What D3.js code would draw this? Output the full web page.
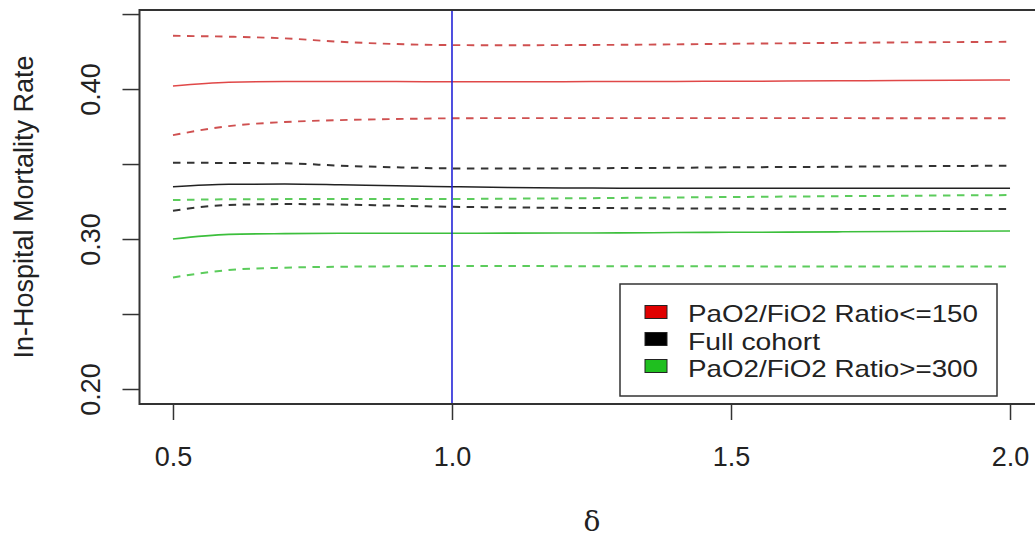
<!DOCTYPE html>
<html><head><meta charset="utf-8">
<script src="https://cdn.jsdelivr.net/npm/d3@7"></script>
<style>
html,body{margin:0;padding:0;background:#fff;}
text{font-family:"Liberation Sans",Arial,sans-serif;fill:#222;}
</style></head>
<body><svg id="c" width="1035" height="538"></svg>
<script>
const delta = [0.5,0.6,0.7,0.8,0.9,1.0,1.1,1.2,1.3,1.4,1.5,1.6,1.7,1.8,1.9,2.0];
const redEst   = [0.4020,0.4045,0.4050,0.4050,0.4050,0.4048,0.4048,0.4049,0.4050,0.4051,0.4052,0.4053,0.4055,0.4057,0.4058,0.4060];
const redUp    = [0.4355,0.4349,0.4338,0.4315,0.4300,0.4293,0.4292,0.4293,0.4295,0.4298,0.4302,0.4305,0.4308,0.4311,0.4313,0.4315];
const redLo    = [0.3693,0.3753,0.3780,0.3793,0.3800,0.3805,0.3806,0.3806,0.3806,0.3806,0.3806,0.3806,0.3806,0.3805,0.3805,0.3805];
const fullEst  = [0.3349,0.3365,0.3367,0.3362,0.3355,0.3349,0.3343,0.3340,0.3339,0.3338,0.3338,0.3338,0.3338,0.3338,0.3338,0.3338];
const fullUp   = [0.3509,0.3507,0.3505,0.3489,0.3478,0.3471,0.3470,0.3471,0.3473,0.3475,0.3478,0.3480,0.3482,0.3485,0.3487,0.3489];
const fullLo   = [0.3189,0.3227,0.3233,0.3230,0.3222,0.3215,0.3211,0.3208,0.3206,0.3204,0.3203,0.3202,0.3201,0.3200,0.3200,0.3200];
const grnEst   = [0.3000,0.3031,0.3036,0.3038,0.3038,0.3038,0.3039,0.3040,0.3041,0.3043,0.3045,0.3046,0.3048,0.3050,0.3052,0.3053];
const grnUp    = [0.3260,0.3265,0.3266,0.3267,0.3267,0.3267,0.3269,0.3271,0.3274,0.3277,0.3280,0.3283,0.3286,0.3288,0.3291,0.3293];
const grnLo    = [0.2744,0.2793,0.2809,0.2815,0.2818,0.2820,0.2820,0.2819,0.2819,0.2818,0.2818,0.2817,0.2817,0.2816,0.2816,0.2816];
const yTicks = [0.20,0.25,0.30,0.35,0.40,0.45];
const yTickLabels = ["0.20","","0.30","","0.40",""];
const xTicks = [0.5,1.0,1.5,2.0];
const xTickLabels = ["0.5","1.0","1.5","2.0"];
const legendLabels = ["PaO2/FiO2 Ratio<=150","Full cohort","PaO2/FiO2 Ratio>=300"];
const legendWidths = [290,132,290];
const legendColors = ["#e00000","#000000","#1fbf1f"];
const refDelta = 1.0;

const svg = d3.select("#c");
const x = d3.scaleLinear().domain([0.44,2.06]).range([139.5,1043.5]);
const y = d3.scaleLinear().domain([0.19,0.4527]).range([404,10]);

const series = [
  {v:redUp, c:"#cf5050", dash:true, w:1.9},
  {v:redEst, c:"#e04848", dash:false, w:1.5},
  {v:redLo, c:"#cf5050", dash:true, w:1.9},
  {v:fullUp, c:"#333", dash:true, w:2},
  {v:fullEst, c:"#222", dash:false, w:1.5},
  {v:fullLo, c:"#333", dash:true, w:2},
  {v:grnUp, c:"#5ccc5c", dash:true, w:2},
  {v:grnEst, c:"#3cbf3c", dash:false, w:1.6},
  {v:grnLo, c:"#5ccc5c", dash:true, w:2}
];
const line = d3.line().x((d,i)=>x(delta[i])).y(d=>y(d)).curve(d3.curveMonotoneX);
series.forEach(s=>{
  svg.append("path").attr("d",line(s.v)).attr("fill","none")
    .attr("stroke",s.c).attr("stroke-width",s.w)
    .attr("stroke-dasharray",s.dash?"7.5,6.5":null);
});

// reference line
svg.append("line").attr("x1",x(refDelta)).attr("x2",x(refDelta))
  .attr("y1",y.range()[1]).attr("y2",y.range()[0])
  .attr("stroke","#2424d8").attr("stroke-width",1.6);

// box
svg.append("path").attr("d",`M1040,${y.range()[1]}H${x.range()[0]}V${y.range()[0]}H1040`)
  .attr("fill","none").attr("stroke","#333").attr("stroke-width",2);

// y axis
const ya = svg.append("g").attr("transform",`translate(${x.range()[0]},0)`)
  .call(d3.axisLeft(y).tickValues(yTicks).tickSize(17).tickFormat((d,i)=>yTickLabels[i]));
ya.select(".domain").remove();
ya.selectAll(".tick line").attr("stroke","#333").attr("stroke-width",1.5);
ya.selectAll(".tick text").attr("font-size",27).attr("fill","#222")
  .attr("font-family","Liberation Sans, Arial, sans-serif")
  .attr("text-anchor","middle").attr("dy",0).attr("x",0)
  .attr("transform","translate(-39.5,0) rotate(-90)");

// x axis
const xa = svg.append("g").attr("transform",`translate(0,${y.range()[0]})`)
  .call(d3.axisBottom(x).tickValues(xTicks).tickSize(16).tickFormat((d,i)=>xTickLabels[i]));
xa.select(".domain").remove();
xa.selectAll(".tick line").attr("stroke","#333").attr("stroke-width",1.5);
xa.selectAll(".tick text").attr("font-size",27).attr("fill","#222")
  .attr("font-family","Liberation Sans, Arial, sans-serif")
  .attr("y",62).attr("dy",0);

// axis titles
svg.append("text").attr("transform","translate(33,207) rotate(-90)")
  .attr("text-anchor","middle").attr("font-size",27).text("In-Hospital Mortality Rate");
svg.append("text").attr("x",592).attr("y",531).attr("text-anchor","middle")
  .attr("font-size",28).style("font-family","'DejaVu Serif','Liberation Serif',serif").text("δ");

// legend
const lg = svg.append("g");
lg.append("rect").attr("x",620).attr("y",284).attr("width",377).attr("height",112)
  .attr("fill","#fff").attr("stroke","#333").attr("stroke-width",1.5);
legendLabels.forEach((t,i)=>{
  const cy = 312 + i*27;
  lg.append("rect").attr("x",645).attr("y",cy-6.5).attr("width",22).attr("height",13)
    .attr("fill",legendColors[i]).attr("stroke","#222").attr("stroke-width",1);
  lg.append("text").attr("x",688).attr("y",322+i*27.6).attr("font-size",24)
    .attr("textLength",legendWidths[i]).attr("lengthAdjust","spacingAndGlyphs").text(t);
});
</script></body></html>
